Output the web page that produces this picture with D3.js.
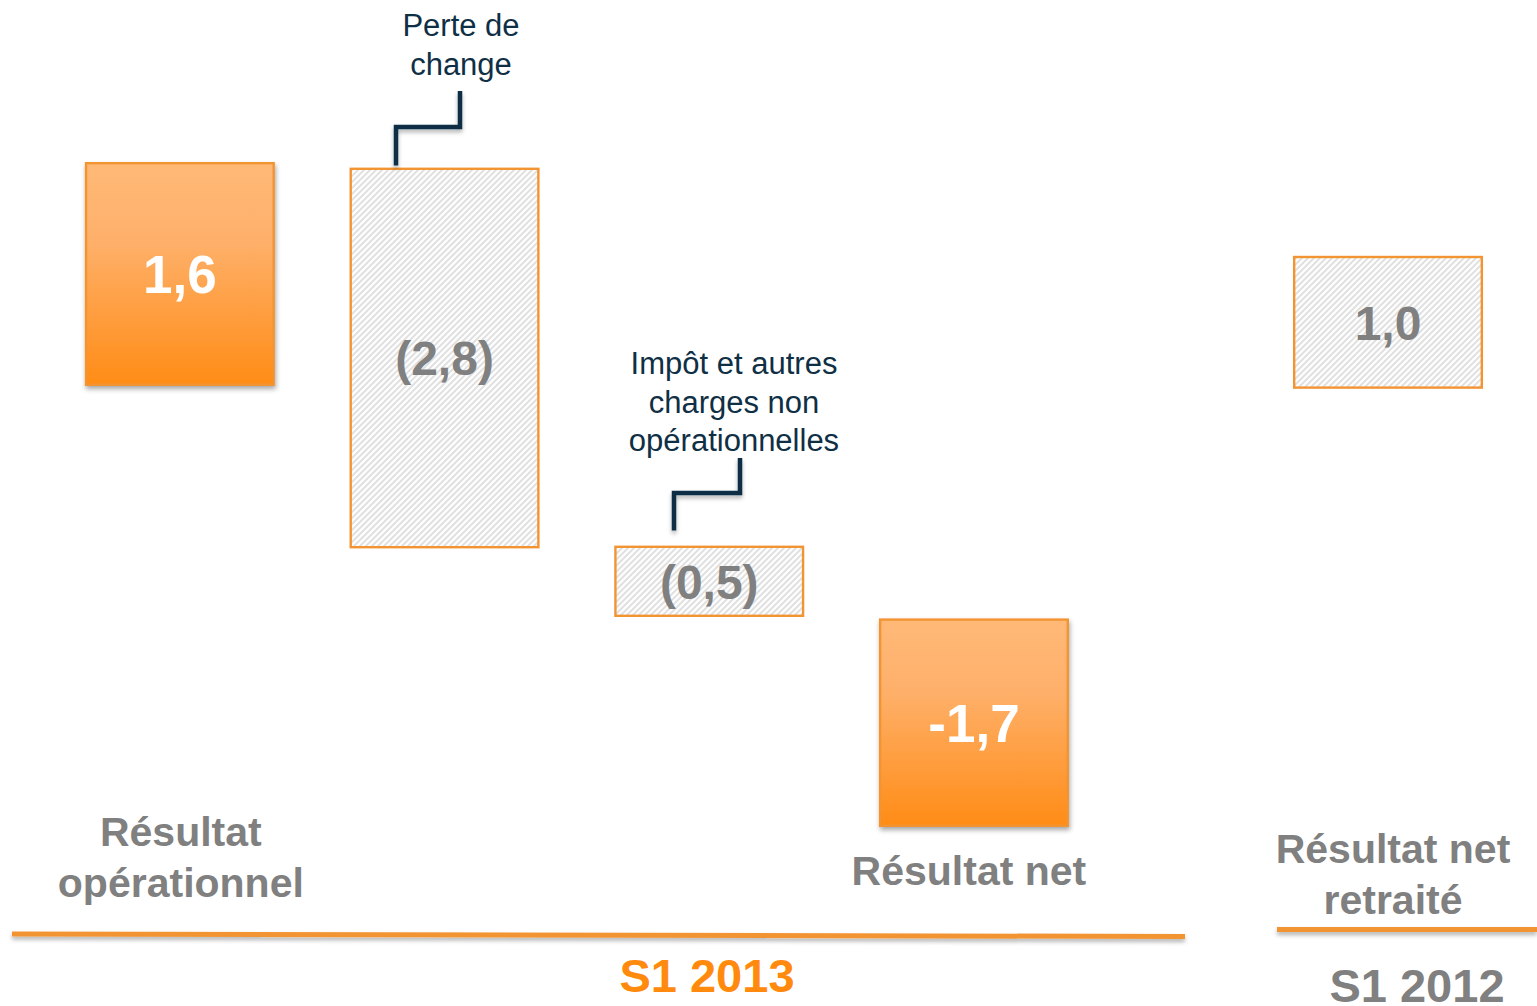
<!DOCTYPE html>
<html>
<head>
<meta charset="utf-8">
<script src="https://cdn.jsdelivr.net/npm/d3@7"></script>
<style>
  html, body { margin: 0; padding: 0; background: #fff; }
  svg { display: block; font-family: "Liberation Sans", Arial, sans-serif; }
</style>
</head>
<body>
<svg id="chart" width="1537" height="1006"></svg>
<script>
// data (bar ends in chart units, the original is not drawn to scale)
const categories = ['Résultat opérationnel', 'Perte de change', 'Impôt et autres charges non opérationnelles', 'Résultat net', 'Résultat net retraité']
const periods = ['S1 2013', 'S1 2013', 'S1 2013', 'S1 2013', 'S1 2012']
const valueLabels = ['1,6', '(2,8)', '(0,5)', '-1,7', '1,0']
const barTop = [1.6, 1.56, -1.14, -1.66, 0.93]
const barBottom = [0, -1.16, -1.65, -3.15, -0.02]
const barKind = ['solid', 'hatched', 'hatched', 'solid', 'hatched']
const bottomLabels = [['Résultat', 'opérationnel'], null, null, ['Résultat net'], ['Résultat net', 'retraité']]
const notes = [null, ['Perte de', 'change'], ['Impôt et autres', 'charges non', 'opérationnelles'], null, null]

const width = 1537, height = 1006
const orange = '#F39433', grey = '#808080', navy = '#0f2f45'

const svg = d3.select('#chart')
const defs = svg.append('defs')

const grad = defs.append('linearGradient').attr('id', 'orangeGrad')
  .attr('x1', 0).attr('y1', 0).attr('x2', 0).attr('y2', 1)
grad.append('stop').attr('offset', '0%').attr('stop-color', '#FFB977')
grad.append('stop').attr('offset', '35%').attr('stop-color', '#FEB06A')
grad.append('stop').attr('offset', '100%').attr('stop-color', '#FF8C16')

const hatch = defs.append('pattern').attr('id', 'hatch')
  .attr('patternUnits', 'userSpaceOnUse').attr('width', 6).attr('height', 6)
hatch.append('rect').attr('width', 6).attr('height', 6).attr('fill', '#fdfdfd')
hatch.append('path').attr('d', 'M-1,1 l2,-2 M0,6 l6,-6 M5,7 l2,-2')
  .attr('stroke', '#dedede').attr('stroke-width', 1.7)

const shadow = defs.append('filter').attr('id', 'shadow')
  .attr('x', '-10%').attr('y', '-10%').attr('width', '130%').attr('height', '140%')
shadow.append('feDropShadow').attr('dx', 1).attr('dy', 3).attr('stdDeviation', 2.5)
  .attr('flood-color', '#000').attr('flood-opacity', 0.35)

// user space region so that flat lines keep their shadow
const lineShadow = defs.append('filter').attr('id', 'lineShadow')
  .attr('filterUnits', 'userSpaceOnUse')
  .attr('x', 0).attr('y', 0).attr('width', width).attr('height', height)
lineShadow.append('feDropShadow').attr('dx', 0).attr('dy', 3).attr('stdDeviation', 2)
  .attr('flood-color', '#000').attr('flood-opacity', 0.3)

// scales
const y = d3.scaleLinear().domain([0, 1.6]).range([386, 162])
const step = 264.7
const x2013 = d3.scaleBand().domain(categories.slice(0, 4))
  .range([47.5, 47.5 + 4 * step]).paddingInner(0.282).paddingOuter(0.141)
const x2012 = d3.scaleBand().domain(categories.slice(4))
  .range([1388 - step / 2, 1388 + step / 2]).paddingInner(0.282).paddingOuter(0.141)
const xs = d => periods[categories.indexOf(d)] === 'S1 2013' ? x2013 : x2012
const bx = d => xs(d)(d)
const bw = d => xs(d).bandwidth()

const data = categories.map((c, i) => ({
  cat: c, top: barTop[i], bottom: barBottom[i], kind: barKind[i],
  label: valueLabels[i], bottomLabel: bottomLabels[i], note: notes[i]
}))

// bars
svg.append('g').selectAll('rect').data(data).join('rect')
  .attr('x', d => bx(d.cat) + 1.2)
  .attr('y', d => y(d.top) + 1.2)
  .attr('width', d => bw(d.cat) - 2.4)
  .attr('height', d => y(d.bottom) - y(d.top) - 2.4)
  .attr('fill', d => d.kind === 'solid' ? 'url(#orangeGrad)' : 'url(#hatch)')
  .attr('stroke', orange)
  .attr('stroke-width', 2.4)
  .attr('filter', d => d.kind === 'solid' ? 'url(#shadow)' : null)

// values in bars
svg.append('g').selectAll('text').data(data).join('text')
  .attr('x', d => bx(d.cat) + bw(d.cat) / 2)
  .attr('y', d => (y(d.top) + y(d.bottom)) / 2)
  .attr('dy', '0.36em')
  .attr('text-anchor', 'middle')
  .attr('font-weight', 'bold')
  .attr('font-size', d => d.kind === 'solid' ? 53 : 48)
  .attr('fill', d => d.kind === 'solid' ? '#fff' : grey)
  .text(d => d.label)

// category labels under the bars
const labelBase = { 'Résultat opérationnel': 846, 'Résultat net': 885, 'Résultat net retraité': 863 }
const labelShift = { 'Résultat opérationnel': 1, 'Résultat net': -5, 'Résultat net retraité': 5 }
data.filter(d => d.bottomLabel).forEach(d => {
  const t = svg.append('text')
    .attr('text-anchor', 'middle')
    .attr('font-weight', 'bold')
    .attr('font-size', 41)
    .attr('fill', grey)
  d.bottomLabel.forEach((line, k) => {
    t.append('tspan')
      .attr('x', bx(d.cat) + bw(d.cat) / 2 + labelShift[d.cat])
      .attr('y', labelBase[d.cat] + k * 51)
      .text(line)
  })
})

// annotations with elbow connectors
const noteLayout = {
  'Perte de change': { tx: 461, ty: 36, elbowX: 460, elbowTop: 91, elbowY: 127, dropX: 396, gap: 2 },
  'Impôt et autres charges non opérationnelles': { tx: 734, ty: 374, elbowX: 740, elbowTop: 458, elbowY: 493, dropX: 674, gap: 15 }
}
data.filter(d => d.note).forEach(d => {
  const L = noteLayout[d.cat]
  const t = svg.append('text')
    .attr('text-anchor', 'middle')
    .attr('font-size', 31)
    .attr('fill', navy)
  d.note.forEach((line, k) => {
    t.append('tspan').attr('x', L.tx).attr('y', L.ty + k * 38.5).text(line)
  })
  svg.append('path')
    .attr('d', `M${L.elbowX},${L.elbowTop} V${L.elbowY} H${L.dropX} V${y(d.top) - L.gap}`)
    .attr('fill', 'none')
    .attr('stroke', navy)
    .attr('stroke-width', 4.5)
    .attr('filter', 'url(#lineShadow)')
})

// period rules and labels
const periodInfo = [
  { name: 'S1 2013', x1: 12, x2: 1185, y1: 934, y2: 936.5, color: '#FF8A0E', tx: 707, ty: 992 },
  { name: 'S1 2012', x1: 1277, x2: 1537, y1: 929.5, y2: 929.5, color: grey, tx: 1417, ty: 1002 }
]
periodInfo.forEach(p => {
  svg.append('line')
    .attr('x1', p.x1).attr('x2', p.x2).attr('y1', p.y1).attr('y2', p.y2)
    .attr('stroke', orange).attr('stroke-width', 5)
    .attr('filter', 'url(#lineShadow)')
  svg.append('text')
    .attr('x', p.tx).attr('y', p.ty)
    .attr('text-anchor', 'middle')
    .attr('font-weight', 'bold')
    .attr('font-size', 47)
    .attr('fill', p.color)
    .text(p.name)
})
</script>
</body>
</html>
